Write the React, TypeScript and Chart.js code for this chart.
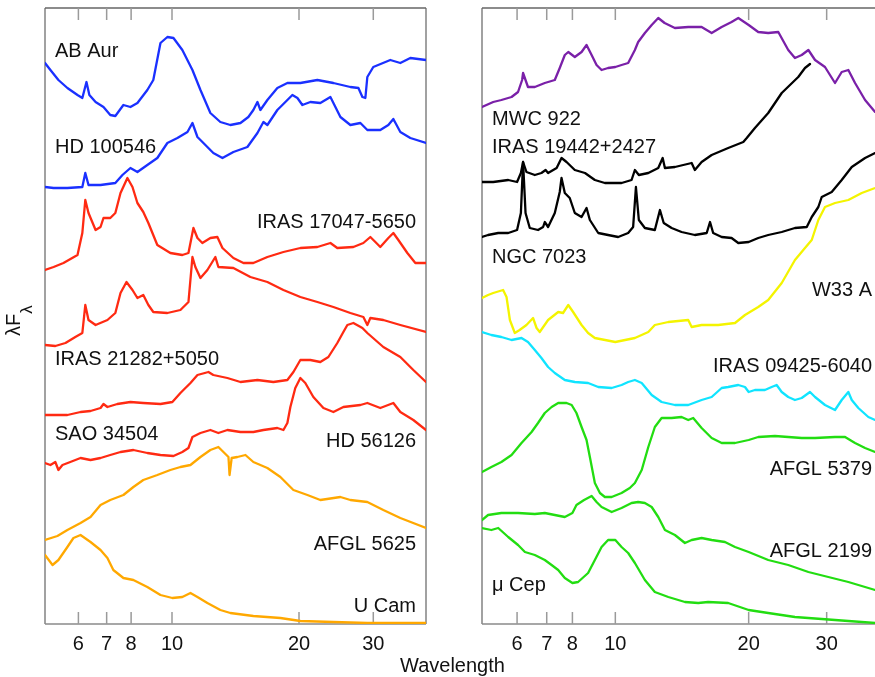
import React, { useEffect, useRef } from "react";
import { Chart, registerables } from "chart.js";

Chart.register(...registerables);

type Pt = [number, number];

// ---- axis setup ----
const X_TICKS = [6, 7, 8, 10, 20, 30];
const X_MIN = 5;
const X_MAX = 40;
const Y_MIN = 0;
const Y_MAX = 616;

// ---- left panel spectra: [wavelength (micron), lambda F_lambda (offset, arbitrary units)] ----
const AB_AUR: Pt[] = [
  [5.0, 561], [5.15, 554], [5.38, 544], [5.65, 536], [5.97, 529], [6.13, 526], [6.27, 542], [6.37, 529],
  [6.59, 522], [6.88, 517], [7.14, 509], [7.34, 508], [7.67, 519], [7.97, 517], [8.28, 521], [8.74, 534],
  [9.03, 544], [9.39, 581], [9.75, 587], [10.08, 586], [10.58, 574], [11.18, 554], [11.68, 534], [12.33, 511],
  [13.02, 502], [13.75, 499], [14.53, 501], [15.17, 507], [15.59, 514], [15.94, 522], [16.2, 514], [16.83, 524],
  [17.77, 536], [18.77, 541], [20.15, 541], [22.11, 544], [24.13, 541], [26.47, 537], [27.66, 536], [28.27, 527],
  [28.73, 526], [29.04, 547], [30.0, 557], [32.92, 564], [34.77, 561], [36.72, 566], [40.0, 564],
];

const HD_100546: Pt[] = [
  [5.0, 437], [5.24, 436], [5.65, 436], [6.13, 437], [6.23, 451], [6.34, 439], [6.77, 439], [7.34, 441],
  [7.63, 449], [7.97, 456], [8.28, 452], [8.74, 459], [9.23, 466], [9.75, 481], [10.3, 486], [10.88, 492],
  [11.18, 501], [11.49, 487], [11.87, 481], [12.53, 471], [13.17, 466], [13.98, 472], [15.09, 477], [15.94, 491],
  [16.47, 502], [16.83, 499], [17.77, 514], [18.77, 524], [19.29, 529], [19.83, 526], [20.37, 519], [21.28, 522],
  [22.47, 521], [23.74, 527], [25.07, 507], [26.47, 499], [27.96, 501], [29.04, 494], [31.17, 494], [32.57, 499],
  [33.47, 505], [34.77, 492], [36.72, 486], [40.0, 481],
];

const IRAS_17047: Pt[] = [
  [5.0, 354], [5.24, 357], [5.53, 361], [5.97, 369], [6.13, 391], [6.23, 424], [6.34, 411], [6.59, 394],
  [6.77, 397], [6.88, 406], [7.14, 406], [7.34, 411], [7.55, 431], [7.84, 446], [8.06, 437], [8.28, 421],
  [8.55, 412], [8.79, 401], [9.23, 379], [9.91, 371], [10.58, 369], [10.94, 371], [11.24, 396], [11.49, 386],
  [11.8, 381], [12.33, 386], [12.81, 387], [13.17, 376], [13.98, 366], [14.77, 361], [15.59, 361], [16.83, 367],
  [18.37, 372], [20.15, 376], [22.11, 377], [23.74, 381], [24.65, 376], [26.91, 377], [28.42, 381], [29.52, 387],
  [30.34, 382], [31.17, 377], [32.57, 386], [33.47, 391], [34.4, 384], [36.13, 371], [37.74, 361], [40.0, 361],
];

const IRAS_21282: Pt[] = [
  [5.0, 279], [5.29, 278], [5.59, 281], [5.9, 287], [6.13, 291], [6.23, 319], [6.34, 304], [6.59, 299],
  [7.03, 304], [7.34, 311], [7.55, 331], [7.8, 342], [8.06, 334], [8.28, 326], [8.55, 329], [8.79, 319],
  [9.03, 312], [9.75, 311], [10.47, 314], [10.94, 322], [11.18, 367], [11.36, 357], [11.68, 346], [12.13, 354],
  [12.67, 367], [12.88, 357], [13.98, 356], [15.34, 347], [16.83, 342], [18.37, 334], [20.15, 327], [22.11, 322],
  [24.13, 317], [26.47, 311], [28.42, 307], [29.04, 299], [29.52, 306], [31.69, 304], [34.77, 299], [40.0, 292],
];

const SAO_34504: Pt[] = [
  [5.0, 209], [5.35, 209], [5.65, 209], [6.07, 212], [6.41, 213], [6.77, 216], [6.88, 220], [7.03, 217],
  [7.42, 220], [7.97, 222], [8.55, 221], [9.39, 220], [10.02, 222], [10.47, 231], [11.06, 241], [11.49, 249],
  [12.2, 252], [12.53, 249], [13.53, 246], [14.53, 242], [15.94, 244], [17.39, 242], [18.77, 244], [19.4, 252],
  [20.15, 264], [21.28, 264], [22.47, 262], [23.48, 267], [24.65, 281], [25.48, 292], [26.04, 299], [26.91, 301],
  [28.27, 296], [29.04, 291], [31.69, 277], [34.77, 267], [37.33, 254], [40.0, 242],
];

const HD_56126: Pt[] = [
  [5.0, 161], [5.15, 159], [5.29, 162], [5.38, 154], [5.5, 159], [5.74, 162], [6.07, 166], [6.41, 164],
  [6.77, 166], [7.14, 169], [7.55, 172], [8.1, 174], [8.74, 171], [9.39, 169], [10.08, 168], [10.58, 172],
  [10.94, 176], [11.18, 187], [11.68, 191], [12.33, 194], [12.88, 191], [13.53, 194], [14.53, 192], [15.59, 192],
  [16.47, 194], [17.77, 196], [18.37, 194], [18.77, 201], [19.08, 217], [19.6, 236], [20.15, 246], [20.7, 241],
  [21.63, 227], [22.85, 216], [24.13, 212], [25.48, 217], [27.96, 219], [29.04, 221], [31.17, 216], [33.47, 221],
  [34.77, 212], [37.33, 204], [40.0, 194],
];

const AFGL_5625: Pt[] = [
  [5.0, 84], [5.35, 88], [5.65, 94], [6.07, 101], [6.41, 107], [6.77, 119], [7.14, 124], [7.67, 129],
  [8.1, 137], [8.55, 144], [9.23, 149], [9.91, 154], [10.47, 157], [11.06, 159], [11.68, 167], [12.33, 174],
  [12.88, 177], [13.24, 172], [13.61, 167], [13.69, 149], [13.85, 166], [14.29, 167], [14.93, 169], [15.59, 162],
  [16.83, 156], [18.07, 147], [19.4, 134], [20.94, 129], [22.47, 124], [25.07, 127], [26.47, 124], [29.04, 122],
  [31.69, 114], [34.77, 106], [40.0, 96],
];

const U_CAM: Pt[] = [
  [5.0, 69], [5.21, 59], [5.38, 64], [5.65, 77], [5.84, 86], [6.07, 89], [6.41, 82], [6.77, 74],
  [7.03, 66], [7.26, 54], [7.67, 46], [8.1, 44], [8.74, 37], [9.39, 29], [10.02, 26], [10.58, 27],
  [11.06, 31], [11.49, 27], [12.13, 21], [13.02, 14], [13.75, 11], [15.59, 8], [18.07, 6], [20.15, 3],
  [24.13, 2], [29.04, 1], [40.0, 1],
];

// ---- right panel spectra ----
const MWC_922: Pt[] = [
  [5.0, 517], [5.3, 522], [5.53, 524], [5.83, 527], [6.03, 532], [6.16, 544], [6.19, 551], [6.35, 537],
  [6.58, 537], [6.93, 541], [7.3, 544], [7.49, 556], [7.69, 569], [7.83, 572], [8.1, 567], [8.39, 572],
  [8.61, 579], [8.84, 569], [9.07, 559], [9.31, 554], [9.63, 556], [10.0, 557], [10.33, 559], [10.69, 561],
  [11.07, 574], [11.26, 582], [11.66, 591], [12.08, 599], [12.5, 606], [12.92, 601], [13.63, 596], [14.61, 597],
  [15.66, 597], [16.5, 591], [17.38, 597], [18.3, 602], [18.95, 606], [20.0, 599], [21.02, 592], [22.14, 591],
  [23.33, 592], [24.57, 574], [25.44, 566], [26.35, 569], [27.28, 574], [28.24, 564], [29.74, 557], [31.33, 541],
  [32.44, 552], [33.58, 554], [34.77, 541], [36.63, 524], [38.59, 512], [40.0, 509],
];

const IRAS_19442: Pt[] = [
  [5.0, 442], [5.3, 442], [5.73, 444], [6.0, 442], [6.12, 451], [6.19, 462], [6.3, 452], [6.58, 449],
  [6.81, 451], [6.96, 454], [7.05, 451], [7.37, 456], [7.56, 466], [7.76, 462], [8.1, 454], [8.54, 451],
  [8.99, 444], [9.47, 441], [10.33, 441], [10.88, 444], [11.07, 454], [11.3, 449], [11.87, 451], [12.5, 456],
  [12.79, 466], [12.94, 456], [13.63, 457], [14.87, 461], [15.12, 454], [15.66, 462], [16.5, 469], [17.98, 476],
  [19.45, 482], [19.8, 486], [20.66, 496], [22.14, 511], [23.75, 531], [25.88, 547], [26.8, 556], [27.51, 560],
];

const NGC_7023: Pt[] = [
  [5.0, 387], [5.16, 389], [5.44, 391], [5.73, 391], [6.0, 394], [6.12, 411], [6.19, 462], [6.27, 411],
  [6.41, 396], [6.69, 394], [6.87, 397], [6.93, 402], [7.05, 397], [7.3, 411], [7.49, 432], [7.56, 446],
  [7.69, 431], [7.89, 426], [8.1, 411], [8.39, 407], [8.61, 416], [8.76, 404], [9.15, 391], [9.63, 389],
  [10.15, 387], [10.69, 391], [10.97, 397], [11.13, 437], [11.3, 404], [11.66, 396], [12.28, 394], [12.61, 414],
  [12.86, 401], [13.4, 396], [14.11, 392], [15.12, 389], [16.08, 391], [16.36, 402], [16.63, 391], [17.38, 387],
  [18.3, 386], [18.95, 381], [20.0, 382], [21.02, 386], [22.14, 389], [23.75, 392], [25.44, 396], [27.05, 397],
  [27.76, 407], [28.73, 417], [29.24, 427], [30.8, 432], [32.44, 444], [34.18, 457], [36.63, 466], [38.59, 471],
  [40.0, 474],
];

const W33_A: Pt[] = [
  [5.0, 326], [5.16, 329], [5.3, 331], [5.58, 334], [5.68, 327], [5.78, 304], [5.93, 291], [6.08, 294],
  [6.3, 299], [6.52, 306], [6.64, 296], [6.75, 292], [7.05, 304], [7.43, 312], [7.62, 311], [7.83, 319],
  [8.03, 312], [8.39, 299], [8.68, 291], [8.99, 286], [10.0, 282], [11.07, 286], [11.87, 292], [12.28, 299],
  [13.17, 302], [14.61, 304], [14.87, 297], [15.66, 299], [17.07, 299], [18.63, 301], [19.62, 309], [21.02, 317],
  [22.14, 324], [23.75, 341], [25.44, 364], [26.8, 376], [27.76, 384], [28.73, 404], [29.74, 417], [31.33, 421],
  [33.58, 424], [36.0, 431], [38.59, 436], [40.0, 439],
];

const IRAS_09425: Pt[] = [
  [5.0, 292], [5.25, 289], [5.53, 287], [5.83, 284], [6.14, 286], [6.35, 282], [6.58, 274], [6.81, 266],
  [7.05, 257], [7.3, 251], [7.69, 244], [8.1, 242], [8.68, 241], [9.15, 237], [9.81, 236], [10.33, 239],
  [10.69, 242], [11.07, 244], [11.47, 241], [12.08, 229], [12.72, 222], [13.63, 219], [14.61, 219], [15.66, 224],
  [16.5, 227], [17.38, 236], [17.98, 237], [18.95, 239], [19.62, 237], [20.0, 232], [20.66, 234], [21.76, 234],
  [22.54, 237], [23.13, 239], [23.75, 232], [24.57, 227], [25.44, 224], [26.35, 226], [27.51, 232], [28.24, 227],
  [29.74, 219], [31.33, 214], [32.44, 224], [33.58, 232], [34.18, 224], [35.37, 216], [37.26, 207], [38.59, 204],
  [40.0, 201],
];

const AFGL_5379: Pt[] = [
  [5.0, 152], [5.25, 157], [5.53, 162], [5.83, 169], [6.14, 181], [6.47, 192], [6.69, 201], [6.93, 211],
  [7.18, 217], [7.43, 221], [7.76, 221], [7.97, 219], [8.17, 211], [8.39, 197], [8.61, 184], [8.76, 167],
  [8.99, 141], [9.23, 131], [9.47, 127], [9.81, 127], [10.33, 131], [10.78, 136], [11.07, 141], [11.47, 154],
  [11.87, 177], [12.28, 197], [12.72, 206], [13.4, 206], [14.11, 207], [14.61, 204], [14.99, 206], [15.66, 196],
  [16.5, 186], [17.38, 181], [18.63, 181], [20.0, 184], [21.02, 187], [22.93, 188], [24.57, 187], [26.35, 186],
  [28.24, 186], [31.33, 187], [33.01, 187], [34.77, 181], [36.63, 176], [38.59, 172], [40.0, 169],
];

const AFGL_2199: Pt[] = [
  [5.0, 104], [5.16, 109], [5.53, 111], [6.03, 111], [6.58, 110], [6.93, 111], [7.3, 109], [7.69, 107],
  [8.0, 111], [8.17, 119], [8.5, 124], [8.84, 128], [9.07, 122], [9.31, 117], [9.81, 112], [10.33, 116],
  [10.88, 121], [11.26, 122], [11.66, 121], [12.08, 117], [12.5, 107], [12.94, 94], [13.63, 89], [14.36, 81],
  [14.87, 84], [15.66, 86], [16.5, 84], [17.68, 82], [18.63, 77], [20.0, 72], [22.14, 64], [24.57, 59],
  [27.28, 52], [30.26, 47], [33.58, 42], [38.59, 34], [40.0, 32],
];

const MU_CEP: Pt[] = [
  [5.0, 96], [5.25, 94], [5.44, 96], [5.73, 87], [6.03, 79], [6.25, 72], [6.58, 69], [6.93, 64],
  [7.18, 59], [7.43, 54], [7.69, 46], [8.0, 41], [8.24, 42], [8.68, 51], [8.99, 64], [9.31, 77],
  [9.63, 84], [10.0, 84], [10.33, 77], [10.69, 71], [11.07, 61], [11.66, 44], [12.28, 32], [13.17, 27],
  [14.36, 22], [15.39, 21], [16.2, 22], [17.98, 21], [20.0, 14], [22.14, 11], [25.44, 7], [29.24, 5],
  [33.58, 3], [38.59, 1], [40.0, 1],
];

// ---- styling ----
const BLUE = "#1a30ff";
const RED = "#ff2a12";
const ORANGE = "#ffa800";
const PURPLE = "#7a20a8";
const BLACK = "#000000";
const YELLOW = "#f4f400";
const CYAN = "#10e4ff";
const GREEN = "#22dd11";

const FONT = '"Liberation Sans", Arial, Helvetica, sans-serif';

type Series = { name: string; data: Pt[]; color: string };
type Label = { text: string; x: number; y: number; align: "left" | "right" };

const LEFT_SERIES: Series[] = [
  { name: "AB Aur", data: AB_AUR, color: BLUE },
  { name: "HD 100546", data: HD_100546, color: BLUE },
  { name: "IRAS 17047-5650", data: IRAS_17047, color: RED },
  { name: "IRAS 21282+5050", data: IRAS_21282, color: RED },
  { name: "SAO 34504", data: SAO_34504, color: RED },
  { name: "HD 56126", data: HD_56126, color: RED },
  { name: "AFGL 5625", data: AFGL_5625, color: ORANGE },
  { name: "U Cam", data: U_CAM, color: ORANGE },
];

const RIGHT_SERIES: Series[] = [
  { name: "MWC 922", data: MWC_922, color: PURPLE },
  { name: "IRAS 19442+2427", data: IRAS_19442, color: BLACK },
  { name: "NGC 7023", data: NGC_7023, color: BLACK },
  { name: "W33 A", data: W33_A, color: YELLOW },
  { name: "IRAS 09425-6040", data: IRAS_09425, color: CYAN },
  { name: "AFGL 5379", data: AFGL_5379, color: GREEN },
  { name: "AFGL 2199", data: AFGL_2199, color: GREEN },
  { name: "\u03bc Cep", data: MU_CEP, color: GREEN },
];

// label placement (page pixels)
const LEFT_LABELS: Label[] = [
  { text: "AB Aur", x: 55, y: 57, align: "left" },
  { text: "HD 100546", x: 55, y: 153, align: "left" },
  { text: "IRAS 17047-5650", x: 416, y: 228, align: "right" },
  { text: "IRAS 21282+5050", x: 55, y: 365, align: "left" },
  { text: "SAO 34504", x: 55, y: 440, align: "left" },
  { text: "HD 56126", x: 416, y: 447, align: "right" },
  { text: "AFGL 5625", x: 416, y: 550, align: "right" },
  { text: "U Cam", x: 416, y: 612, align: "right" },
];

const RIGHT_LABELS: Label[] = [
  { text: "MWC 922", x: 492, y: 125, align: "left" },
  { text: "IRAS 19442+2427", x: 492, y: 153, align: "left" },
  { text: "NGC 7023", x: 492, y: 263, align: "left" },
  { text: "W33 A", x: 872, y: 296, align: "right" },
  { text: "IRAS 09425-6040", x: 872, y: 372, align: "right" },
  { text: "AFGL 5379", x: 872, y: 475, align: "right" },
  { text: "AFGL 2199", x: 872, y: 557, align: "right" },
  { text: "\u03bc Cep", x: 492, y: 591, align: "left" },
];

const CANVAS_W = 890;
const CANVAS_H = 677;
const AXIS_H = 53;

function makePlugin(labels: Label[], closedRight: boolean, extraText: boolean) {
  return {
    id: "frameAndText",
    beforeDatasetsDraw(chart: any) {
      const { ctx, chartArea: a, scales } = chart;
      const xs = scales.x;
      ctx.save();
      ctx.lineWidth = 1.6;
      ctx.strokeStyle = "#8a8a8a";
      ctx.beginPath();
      ctx.moveTo(a.left, a.top);
      ctx.lineTo(a.left, a.bottom);
      ctx.moveTo(a.left, a.bottom);
      ctx.lineTo(a.right, a.bottom);
      if (closedRight) {
        ctx.moveTo(a.right, a.top);
        ctx.lineTo(a.right, a.bottom);
      }
      ctx.stroke();
      ctx.strokeStyle = "#666";
      ctx.beginPath();
      ctx.moveTo(a.left, a.top);
      ctx.lineTo(a.right, a.top);
      ctx.stroke();
      ctx.strokeStyle = "#9a9a9a";
      ctx.lineWidth = 1.5;
      ctx.beginPath();
      for (const t of X_TICKS) {
        const px = xs.getPixelForValue(t);
        ctx.moveTo(px, a.bottom);
        ctx.lineTo(px, a.bottom - 12);
        ctx.moveTo(px, a.top);
        ctx.lineTo(px, a.top + 12);
      }
      ctx.stroke();
      ctx.restore();
    },
    afterDraw(chart: any) {
      const { ctx } = chart;
      ctx.save();
      ctx.fillStyle = "#111";
      ctx.font = `20px ${FONT}`;
      ctx.textBaseline = "alphabetic";
      for (const l of labels) {
        ctx.textAlign = l.align;
        ctx.fillText(l.text, l.x, l.y);
      }
      if (extraText) {
        ctx.textAlign = "left";
        ctx.fillText("Wavelength", 400, 672);
        // y-axis title lambda F_lambda
        ctx.translate(20, 336);
        ctx.rotate(-Math.PI / 2);
        ctx.font = `20px ${FONT}`;
        ctx.fillText("\u03bbF", 0, 0);
        const w = ctx.measureText("\u03bbF").width;
        ctx.font = `17px ${FONT}`;
        ctx.fillText("\u03bb", w, 12);
      }
      ctx.restore();
    },
  };
}

function buildConfig(series: Series[], labels: Label[], left: number, right: number, closedRight: boolean, extraText: boolean): any {
  return {
    type: "line",
    data: {
      datasets: series.map((s) => ({
        label: s.name,
        data: s.data.map((p) => ({ x: p[0], y: p[1] })),
        borderColor: s.color,
        backgroundColor: s.color,
        borderWidth: 2.3,
        pointRadius: 0,
        tension: 0,
        fill: false,
        borderJoinStyle: "round",
        borderCapStyle: "round",
      })),
    },
    options: {
      responsive: false,
      animation: false,
      parsing: true,
      layout: { padding: { left, right: CANVAS_W - right, top: 8, bottom: 0 } },
      plugins: { legend: { display: false }, tooltip: { enabled: false }, title: { display: false } },
      scales: {
        x: {
          type: "logarithmic",
          min: X_MIN,
          max: X_MAX,
          position: "bottom",
          afterBuildTicks: (scale: any) => {
            scale.ticks = X_TICKS.map((v) => ({ value: v }));
          },
          afterFit: (scale: any) => {
            scale.height = AXIS_H;
          },
          ticks: {
            autoSkip: false,
            maxRotation: 0,
            minRotation: 0,
            padding: 8,
            color: "#111",
            font: { family: FONT, size: 20 },
            callback: (v: any) => String(v),
          },
          grid: { display: false, drawTicks: false },
          border: { display: false },
        },
        y: {
          type: "linear",
          min: Y_MIN,
          max: Y_MAX,
          display: false,
        },
      },
    },
    plugins: [makePlugin(labels, closedRight, extraText)],
  };
}

export default function App() {
  const leftRef = useRef<HTMLCanvasElement | null>(null);
  const rightRef = useRef<HTMLCanvasElement | null>(null);

  useEffect(() => {
    const c1 = new Chart(leftRef.current as HTMLCanvasElement, buildConfig(LEFT_SERIES, LEFT_LABELS, 45, 426, true, true));
    const c2 = new Chart(rightRef.current as HTMLCanvasElement, buildConfig(RIGHT_SERIES, RIGHT_LABELS, 482, 882, false, false));
    return () => {
      c1.destroy();
      c2.destroy();
    };
  }, []);

  const canvasStyle: React.CSSProperties = {
    position: "absolute",
    left: 0,
    top: 0,
    width: CANVAS_W,
    height: CANVAS_H,
  };

  return (
    <div
      style={{
        position: "fixed",
        left: 0,
        top: 0,
        width: "100vw",
        height: "100vh",
        overflow: "hidden",
        background: "#fff",
      }}
    >
      <canvas ref={leftRef} width={CANVAS_W} height={CANVAS_H} style={canvasStyle} />
      <canvas ref={rightRef} width={CANVAS_W} height={CANVAS_H} style={canvasStyle} />
    </div>
  );
}
